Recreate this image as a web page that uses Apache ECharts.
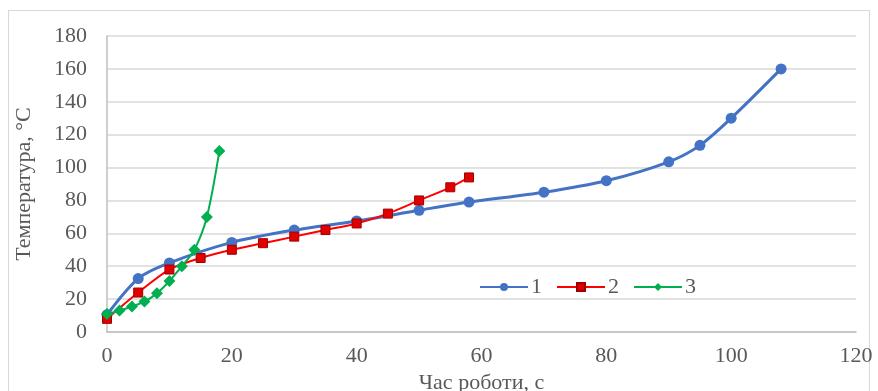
<!DOCTYPE html>
<html>
<head>
<meta charset="utf-8">
<script src="https://cdn.jsdelivr.net/npm/echarts@6/dist/echarts.min.js"></script>
<style>
  html, body { margin: 0; padding: 0; background: #fff; }
  #frame { position: absolute; left: 8px; top: 10px; width: 862px; height: 390px; border: 1px solid #d9d9d9; box-sizing: border-box; }
  #chart { position: absolute; left: 0; top: 0; width: 878px; height: 391px; }
</style>
</head>
<body>
<div id="frame"></div>
<div id="chart"></div>
<script>
// Series 1
const series1X = [0, 5, 10, 20, 30, 40, 50, 58, 70, 80, 90, 95, 100, 108];
const series1Y = [10.5, 32.5, 42, 54.5, 62, 67.5, 74, 79, 85, 92, 103.5, 113.5, 130, 160];
// Series 2
const series2X = [0, 5, 10, 15, 20, 25, 30, 35, 40, 45, 50, 55, 58];
const series2Y = [8, 24, 38, 45, 50, 54, 58, 62, 66, 72, 80, 88, 94];
// Series 3
const series3X = [0, 2, 4, 6, 8, 10, 12, 14, 16, 18];
const series3Y = [11, 13, 15.5, 18.5, 23.5, 31, 40, 50, 70, 110];

const seriesNames = ["1", "2", "3"];
const xTitle = "Час роботи, с";
const yTitle = "Температура, °С";

const zip = (xs, ys) => xs.map((x, i) => [x, ys[i]]);

const font = "Liberation Serif";
const chart = echarts.init(document.getElementById("chart"));

chart.setOption({
  animation: false,
  grid: { left: 107, right: 22, top: 36, bottom: 59, outerBoundsMode: "none" },
  legend: {
    data: seriesNames,
    left: 474,
    top: 271,
    itemWidth: 48,
    itemHeight: 10,
    itemGap: 14,
    textStyle: { fontFamily: font, fontSize: 22, color: "#595959", padding: [0, 0, 0, -2] },
  },
  xAxis: {
    type: "value",
    min: 0,
    max: 120,
    interval: 20,
    name: xTitle,
    nameLocation: "middle",
    nameGap: 40,
    nameTextStyle: { fontFamily: font, fontSize: 22, color: "#595959" },
    axisLine: { show: true, lineStyle: { color: "#bfbfbf", width: 1.5 } },
    axisTick: { show: false },
    splitLine: { show: false },
    axisLabel: { fontFamily: font, fontSize: 22, color: "#595959", margin: 13 },
  },
  yAxis: {
    type: "value",
    min: 0,
    max: 180,
    interval: 20,
    name: yTitle,
    nameLocation: "middle",
    nameGap: 72,
    nameTextStyle: { fontFamily: font, fontSize: 22, color: "#595959" },
    axisLine: { show: true, lineStyle: { color: "#bfbfbf", width: 1.5 } },
    axisTick: { show: false },
    splitLine: { lineStyle: { color: "#d9d9d9", width: 1.5 } },
    axisLabel: { fontFamily: font, fontSize: 22, color: "#595959", margin: 20 },
  },
  series: [
    {
      name: seriesNames[0],
      type: "line",
      data: zip(series1X, series1Y),
      smooth: 0.3,
      symbol: "circle",
      symbolSize: 11,
      itemStyle: { color: "#4472C4" },
      lineStyle: { color: "#4472C4", width: 3 },
    },
    {
      name: seriesNames[1],
      type: "line",
      data: zip(series2X, series2Y),
      smooth: 0.3,
      symbol: "rect",
      symbolSize: 9,
      itemStyle: { color: "#E00000", borderColor: "#A00000", borderWidth: 1 },
      lineStyle: { color: "#FF0000", width: 2 },
    },
    {
      name: seriesNames[2],
      type: "line",
      data: zip(series3X, series3Y),
      smooth: 0.3,
      symbol: "diamond",
      symbolSize: 12,
      itemStyle: { color: "#00B050" },
      lineStyle: { color: "#00B050", width: 2 },
    },
  ],
});
</script>
</body>
</html>
